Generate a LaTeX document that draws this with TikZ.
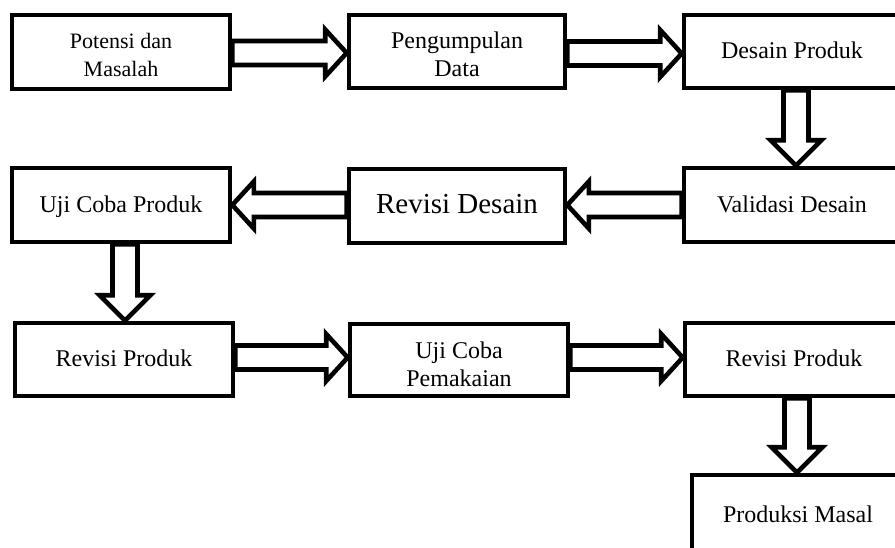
\documentclass[tikz,border=0pt]{standalone}
\usepackage{fontspec}
\setmainfont{Liberation Serif}
\usetikzlibrary{calc,backgrounds}
\tikzset{
  box/.style={draw, line width=2.3pt, fill=white, inner sep=0pt,
    minimum width=109pt, minimum height=37pt, font=\fontsize{12}{14}\selectfont},
  oneline/.style={text height=0.7em, text depth=0pt},
  blockarrow/.style={draw, line width=2.3pt, fill=white, line join=miter},
}
% horizontal block arrow: start anchor, tip anchor, dy, signed head length
\newcommand{\hblock}[4]{%
  \coordinate (T) at ($(#2)+(0,#3)$);
  \coordinate (S) at (#1 |- T);
  \draw[blockarrow] ($(S)+(0,-12)$) -- ($(T)+(#4,-12)$) -- ($(T)+(#4,-23.5)$) -- (T)
    -- ($(T)+(#4,23.5)$) -- ($(T)+(#4,12)$) -- ($(S)+(0,12)$) -- cycle;
}
% vertical (downward) block arrow: start anchor, tip anchor, dx
\newcommand{\vblock}[3]{%
  \coordinate (T) at ($(#2)+(#3,0)$);
  \coordinate (S) at (T |- #1);
  \draw[blockarrow] ($(S)+(-12.5,0)$) -- ($(T)+(-12.5,-25.5)$) -- ($(T)+(-25.5,-25.5)$) -- (T)
    -- ($(T)+(25.5,-25.5)$) -- ($(T)+(12.5,-25.5)$) -- ($(S)+(12.5,0)$) -- cycle;
}
\begin{document}
\begin{tikzpicture}[x=0.5pt,y=-0.5pt]
\useasboundingbox (0,0) rectangle (895,547);
\clip (0,0) rectangle (895,547);

\node[box, font=\fontsize{11}{14}\selectfont, align=center] (b1) at (121,52) {\rule{0pt}{11pt}Potensi dan\\Masalah};
\node[box, minimum width=108pt, minimum height=36.5pt, align=center] (b2) at (457,51.5) {\rule{0pt}{11.5pt}Pengumpulan\\Data};
\node[box, oneline, minimum width=108pt, minimum height=36.5pt] (b3) at (792,51.5) {Desain Produk};
\node[box, oneline] (b4) at (121,205) {Uji Coba Produk};
\node[box, oneline, minimum width=108pt, font=\fontsize{14.5}{16}\selectfont] (b5) at (457,206) {Revisi Desain};
\node[box, oneline, minimum width=108pt] (b6) at (792,205) {Validasi Desain};
\node[box, oneline, minimum height=36.5pt] (b7) at (124,359.5) {Revisi Produk};
\node[box, minimum height=36pt, align=center] (b8) at (459,360) {\rule{0pt}{13pt}Uji Coba\\Pemakaian};
\node[box, oneline, minimum height=36.5pt] (b9) at (794,359.5) {Revisi Produk};
\node[box, oneline, minimum width=106pt, minimum height=40pt] (b10) at (798,515) {Produksi Masal};

\begin{pgfonlayer}{background}
\fill[white] (0,0) rectangle (895,547);
\hblock{b1.east}{b2.west}{1.5}{-21.5}
\hblock{b2.east}{b3.west}{2}{-21.5}
\vblock{b3.south}{b6.north}{4}
\hblock{b6.west}{b5.east}{-1}{21.5}
\hblock{b5.west}{b4.east}{0}{21.5}
\vblock{b4.south}{b7.north}{1}
\hblock{b7.east}{b8.west}{-2.5}{-21.5}
\hblock{b8.east}{b9.west}{-2}{-21.5}
\vblock{b9.south}{b10.north}{-1}
\end{pgfonlayer}
\end{tikzpicture}
\end{document}
